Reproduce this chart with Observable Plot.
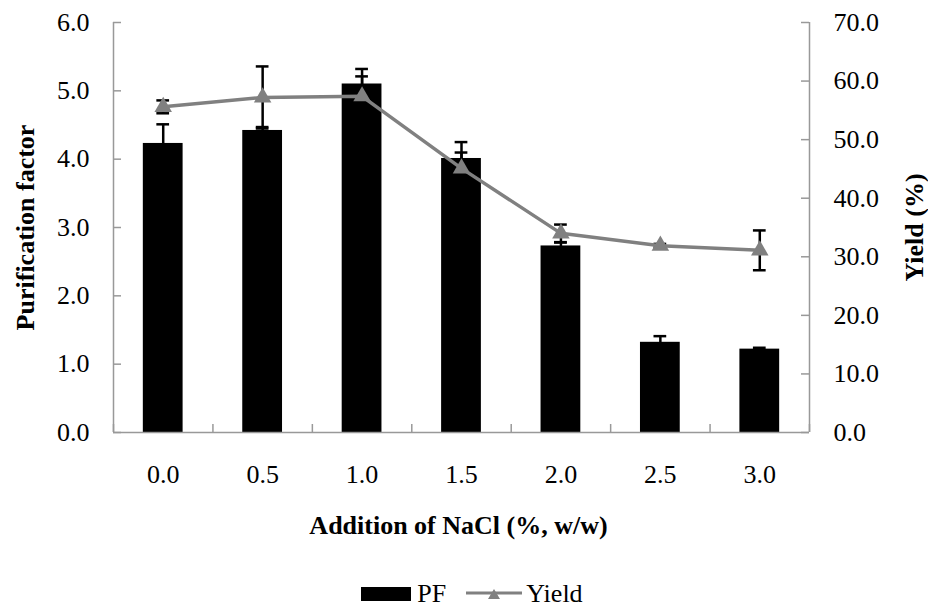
<!DOCTYPE html>
<html>
<head>
<meta charset="utf-8">
<script src="https://cdn.jsdelivr.net/npm/d3@7"></script>
<script src="https://cdn.jsdelivr.net/npm/@observablehq/plot@0.6"></script>
<style>
  body { margin: 0; background: #fff; font-family: "Liberation Serif", "Times New Roman", serif; }
  #chart svg { font-family: "Liberation Serif", "Times New Roman", serif !important; font-size: 26px !important; }
  #chart svg text { font-family: "Liberation Serif", "Times New Roman", serif !important; }
  #legend { height: 48px; box-sizing: border-box; padding-top: 20px; display: flex; justify-content: center; align-items: center; padding-left: 16px; font-size: 26px; line-height: 28px; color: #000; }
  #legend .item { display: flex; align-items: center; }
</style>
</head>
<body>
<div id="chart"></div>
<div id="legend">
  <div class="item"><span style="display:inline-block;width:50px;height:14px;background:#000;margin-right:6px"></span><span>PF</span></div>
  <div class="item" style="margin-left:20px"><svg width="56" height="20" style="margin-right:4px"><line x1="0" y1="9" x2="56" y2="9" stroke="#808080" stroke-width="3"/><path d="M22,15 L34,15 L28,5 Z" fill="#808080"/></svg><span>Yield</span></div>
</div>
<script>
// Data
const nacl = [0.0, 0.5, 1.0, 1.5, 2.0, 2.5, 3.0];
const pf = [4.23, 4.42, 5.10, 4.01, 2.73, 1.32, 1.22];
const pfErr = [0.28, 0.05, 0.22, 0.24, 0.05, 0.09, 0.02];
const yieldVals = [55.6, 57.2, 57.4, 45.1, 34.0, 31.9, 31.1];
const yieldErr = [1.1, 5.3, 3.4, 2.7, 1.5, 0.3, 3.4];
const pfTicks = [0, 1, 2, 3, 4, 5, 6];
const yieldTicks = [0, 10, 20, 30, 40, 50, 60, 70];
const xBounds = [-0.25, 0.25, 0.75, 1.25, 1.75, 2.25, 2.75, 3.25];

// map yield (0-70) onto the PF scale (0-6)
const yToPF = d3.scaleLinear([0, 70], [0, 6]);

const data = nacl.map((x, i) => ({
  nacl: x, pf: pf[i], pfErr: pfErr[i],
  y: yToPF(yieldVals[i]),
  yLo: yToPF(yieldVals[i] - yieldErr[i]),
  yHi: yToPF(yieldVals[i] + yieldErr[i])
}));
const caps = data.flatMap(d => [
  {x: d.nacl, v: d.pf + d.pfErr},
  {x: d.nacl, v: d.pf - d.pfErr},
  {x: d.nacl, v: d.yHi},
  {x: d.nacl, v: d.yLo}
]);

const axisColor = "#999";

const chart = Plot.plot({
  width: 928,
  height: 560,
  marginTop: 22,
  marginBottom: 128,
  marginLeft: 113,
  marginRight: 119,
  style: "font-family: 'Liberation Serif', 'Times New Roman', serif; font-size: 26px; color: #000; background: #fff;",
  x: { domain: [-0.25, 3.25], axis: null },
  y: { domain: [0, 6], axis: null },
  marks: [
    Plot.rectY(data, { x1: d => d.nacl - 0.1, x2: d => d.nacl + 0.1, y: "pf", fill: "#000" }),
    Plot.ruleX(data, { x: "nacl", y1: d => d.pf - d.pfErr, y2: d => d.pf + d.pfErr, stroke: "#000", strokeWidth: 2.5 }),
    Plot.ruleX(data, { x: "nacl", y1: "yLo", y2: "yHi", stroke: "#000", strokeWidth: 2.5 }),
    Plot.ruleY(caps, { y: "v", x1: d => d.x - 0.032, x2: d => d.x + 0.032, stroke: "#000", strokeWidth: 2.5 }),
    Plot.line(data, { x: "nacl", y: "y", stroke: "#808080", strokeWidth: 3.5 }),
    Plot.dot(data, { x: "nacl", y: "y", symbol: "triangle", r: 6.5, fill: "#808080", stroke: "none" }),
    Plot.ruleX([-0.25, 3.25], { stroke: axisColor, strokeWidth: 1.5 }),
    Plot.ruleY([0], { stroke: axisColor, strokeWidth: 1.5 }),
    Plot.tickY(pfTicks, { y: d => d, insetRight: 688, stroke: axisColor, strokeWidth: 1.5 }),
    Plot.tickY(yieldTicks.map(yToPF), { y: d => d, insetLeft: 688, stroke: axisColor, strokeWidth: 1.5 }),
    Plot.tickX(xBounds, { x: d => d, insetTop: 402, stroke: axisColor, strokeWidth: 1.5 }),
    Plot.axisY(pfTicks, { anchor: "left", tickSize: 0, tickPadding: 24, tickFormat: d => d.toFixed(1), label: null }),
    Plot.axisY(yieldTicks.map(yToPF), { anchor: "right", tickSize: 0, tickPadding: 24, tickFormat: d => yToPF.invert(d).toFixed(1), label: null }),
    Plot.axisX(nacl, { anchor: "bottom", tickSize: 0, tickPadding: 32, tickFormat: d => d.toFixed(1), label: null }),
    Plot.text(["Purification factor"], { frameAnchor: "left", dx: -88, rotate: -90, textAnchor: "middle", lineAnchor: "middle", fontWeight: "bold", fontSize: 26 }),
    Plot.text(["Yield (%)"], { frameAnchor: "right", dx: 105, rotate: -90, textAnchor: "middle", lineAnchor: "middle", fontWeight: "bold", fontSize: 26 }),
    Plot.text(["Addition of NaCl (%, w/w)"], { frameAnchor: "bottom", dy: 93, dx: -3, textAnchor: "middle", lineAnchor: "middle", fontWeight: "bold", fontSize: 26 })
  ]
});
document.getElementById("chart").appendChild(chart);
</script>
</body>
</html>
